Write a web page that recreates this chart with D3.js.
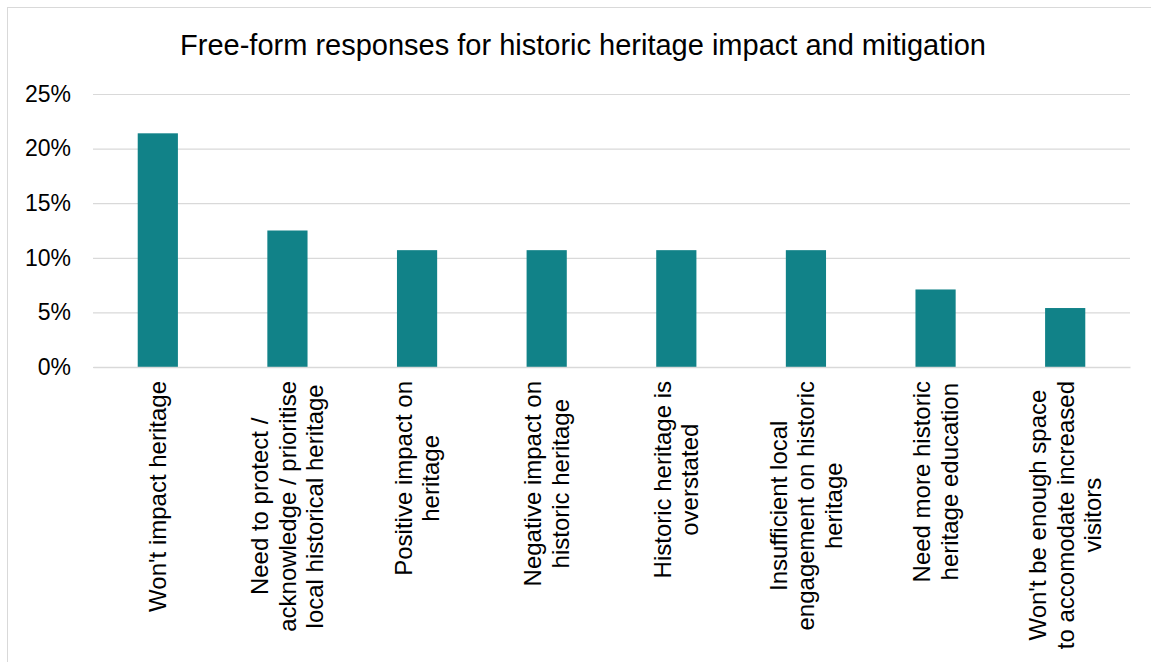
<!DOCTYPE html>
<html>
<head>
<meta charset="utf-8">
<script src="https://cdn.jsdelivr.net/npm/d3@7"></script>
<style>
  html, body { margin: 0; padding: 0; background: #ffffff; }
  svg { display: block; font-family: "Liberation Sans", Arial, sans-serif; }
</style>
</head>
<body>
<svg id="chart" width="1151" height="662"></svg>
<script>
// Response categories (line breaks mark wrapped axis labels)
const categories = [
  "Won't impact heritage",
  "Need to protect /\nacknowledge / prioritise\nlocal historical heritage",
  "Positive impact on\nheritage",
  "Negative impact on\nhistoric heritage",
  "Historic heritage is\noverstated",
  "Insufficient local\nengagement on historic\nheritage",
  "Need more historic\nheritage education",
  "Won't be enough space\nto accomodate increased\nvisitors"
];
// Share of free-form responses
const shares = [0.214, 0.125, 0.107, 0.107, 0.107, 0.107, 0.071, 0.054];
const yTicks = [0, 0.05, 0.10, 0.15, 0.20, 0.25];
const title = "Free-form responses for historic heritage impact and mitigation";

const svg = d3.select("#chart");

// Outer chart frame
svg.append("rect")
  .attr("x", 7.5).attr("y", 7.5)
  .attr("width", 1160).attr("height", 680)
  .attr("fill", "#ffffff").attr("stroke", "#d9d9d9").attr("stroke-width", 1);

const plot = { left: 93, right: 1130, top: 94, bottom: 367 };

const x = d3.scaleBand()
  .domain(d3.range(categories.length))
  .range([plot.left, plot.right])
  .paddingInner(0.69).paddingOuter(0.345);

const y = d3.scaleLinear().domain([0, 0.25]).range([plot.bottom, plot.top]);

// Gridlines and y labels
const yAxis = d3.axisLeft(y)
  .tickValues(yTicks)
  .tickFormat(d3.format(".0%"))
  .tickSize(-(plot.right - plot.left))
  .tickPadding(22);

const gy = svg.append("g")
  .attr("transform", `translate(${plot.left},0)`)
  .call(yAxis);
gy.select(".domain").remove();
gy.selectAll(".tick line").attr("stroke", "#d9d9d9").attr("stroke-width", 1.2);
gy.selectAll(".tick text")
  .attr("fill", "#000000")
  .attr("font-size", 23)
  .attr("font-family", "Liberation Sans, Arial, sans-serif");

// Bars
svg.append("g").selectAll("rect")
  .data(shares)
  .join("rect")
  .attr("x", (d, i) => x(i))
  .attr("y", d => y(d))
  .attr("width", x.bandwidth())
  .attr("height", d => y(0) - y(d))
  .attr("fill", "#118288");

// Category axis baseline
const xAxis = d3.axisBottom(x).tickSize(0).tickFormat("");
const gx = svg.append("g")
  .attr("transform", `translate(0,${plot.bottom})`)
  .call(xAxis);
gx.select(".domain").attr("stroke", "#d9d9d9").attr("stroke-width", 1.4);

// Rotated, wrapped category labels; each block ends just below the axis
const fontSize = 24, lineH = 27.5, labelTop = 381;
categories.forEach((label, i) => {
  const lines = label.split("\n");
  const g = svg.append("g")
    .attr("transform", `translate(${x(i) + x.bandwidth() / 2},${labelTop}) rotate(-90)`);
  const texts = g.selectAll("text")
    .data(lines)
    .join("text")
    .attr("font-size", fontSize)
    .attr("fill", "#000000")
    .attr("text-anchor", "middle")
    .attr("dy", "0.35em")
    .attr("y", (d, k) => (k - (lines.length - 1) / 2) * lineH)
    .text(d => d);
  let maxW = 0;
  texts.each(function () { maxW = Math.max(maxW, this.getComputedTextLength()); });
  texts.attr("x", -maxW / 2);
});

// Title
svg.append("text")
  .attr("x", 583).attr("y", 55)
  .attr("text-anchor", "middle")
  .attr("font-size", 29)
  .attr("fill", "#000000")
  .text(title);
</script>
</body>
</html>
